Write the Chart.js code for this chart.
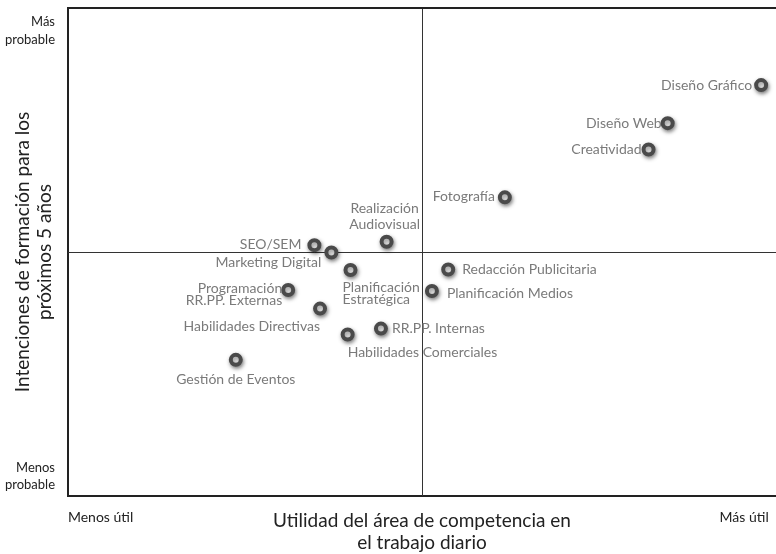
<!DOCTYPE html>
<html>
<head>
<meta charset="utf-8">
<script src="https://cdn.jsdelivr.net/npm/chart.js@4"></script>
<style>
  html, body { margin: 0; padding: 0; background: #fff; }
  #wrap { width: 776px; height: 554px; }
</style>
</head>
<body>
<div id="wrap"><canvas id="c" width="776" height="554"></canvas></div>
<script>
// ---- data ----
const categories = [
  'Diseño Gráfico',
  'Diseño Web',
  'Creatividad',
  'Fotografía',
  'Realización\nAudiovisual',
  'SEO/SEM',
  'Marketing Digital',
  'Planificación\nEstratégica',
  'Redacción Publicitaria',
  'Planificación Medios',
  'Programación\nRR.PP. Externas',
  'Habilidades Directivas',
  'Habilidades Comerciales',
  'RR.PP. Internas',
  'Gestión de Eventos'
];
const utilidad  = [9.79, 8.47, 8.20, 6.17, 4.50, 3.48, 3.72, 3.99, 5.37, 5.14, 3.11, 3.56, 3.95, 4.42, 2.37];
const intencion = [8.42, 7.64, 7.10, 6.12, 5.21, 5.14, 4.99, 4.63, 4.64, 4.20, 4.22, 3.84, 3.31, 3.43, 2.79];
const xTickLabels = ['Menos útil', 'Más útil'];
const yTickLabels = [['Más', 'probable'], ['Menos', 'probable']];
const xAxisTitle = ['Utilidad del área de competencia en', 'el trabajo diario'];
const yAxisTitle = ['Intenciones de formación para los', 'próximos 5 años'];

// ---- label placement (style only) ----
const labelPlacement = [
  {align: 'right',  dx: -9,  dy: 0,   gap: 14},
  {align: 'right',  dx: -6,  dy: 0,   gap: 14},
  {align: 'right',  dx: -7,  dy: 0,   gap: 14},
  {align: 'right',  dx: -10, dy: -1,  gap: 14},
  {align: 'center', dx: -2,  dy: -33, gap: 16},
  {align: 'right',  dx: -13, dy: -1,  gap: 14},
  {align: 'right',  dx: -10, dy: 10,  gap: 14},
  {align: 'left',   dx: -8,  dy: 17,  gap: 12},
  {align: 'left',   dx: 14,  dy: 0,   gap: 14},
  {align: 'left',   dx: 15,  dy: 2,   gap: 14},
  {align: 'right',  dx: -6,  dy: -2,  gap: 12},
  {align: 'right',  dx: 0,   dy: 18,  gap: 14},
  {align: 'left',   dx: 0,   dy: 18,  gap: 14},
  {align: 'left',   dx: 11,  dy: 0,   gap: 14},
  {align: 'center', dx: 0,   dy: 20,  gap: 14}
];

const points = utilidad.map((x, i) => ({x: x, y: intencion[i]}));
const FONT = 'Lato, "Open Sans", sans-serif';

const quadrantPlugin = {
  id: 'quadrant',
  beforeDatasetsDraw(chart) {
    const {ctx, chartArea, scales} = chart;
    const cx = Math.round(scales.x.getPixelForValue(5)) + 0.5;
    const cy = Math.round(scales.y.getPixelForValue(5)) + 0.5;
    ctx.save();
    ctx.strokeStyle = '#333';
    ctx.lineWidth = 1;
    ctx.beginPath();
    ctx.moveTo(cx, chartArea.top);
    ctx.lineTo(cx, chartArea.bottom);
    ctx.moveTo(chartArea.left, cy);
    ctx.lineTo(chartArea.right, cy);
    ctx.stroke();
    // top frame line
    ctx.strokeStyle = '#222';
    ctx.lineWidth = 2;
    ctx.beginPath();
    ctx.moveTo(chartArea.left - 1, chartArea.top);
    ctx.lineTo(chartArea.right, chartArea.top);
    ctx.stroke();
    ctx.restore();
  },
  beforeDatasetDraw(chart) {
    const ctx = chart.ctx;
    ctx.save();
    ctx.shadowColor = 'rgba(0,0,0,0.45)';
    ctx.shadowBlur = 4;
    ctx.shadowOffsetX = 1;
    ctx.shadowOffsetY = 2;
  },
  afterDatasetDraw(chart) {
    chart.ctx.restore();
  },
  afterDatasetsDraw(chart) {
    const {ctx} = chart;
    const meta = chart.getDatasetMeta(0);
    ctx.save();
    ctx.font = '14px ' + FONT;
    ctx.fillStyle = '#7a7a7a';
    ctx.textBaseline = 'middle';
    meta.data.forEach((el, i) => {
      const p = labelPlacement[i];
      ctx.textAlign = p.align;
      const lines = categories[i].split('\n');
      lines.forEach((ln, k) => {
        ctx.fillText(ln, el.x + p.dx, el.y + p.dy + k * p.gap);
      });
    });
    ctx.restore();
  }
};

new Chart(document.getElementById('c'), {
  type: 'scatter',
  data: {
    datasets: [{
      data: points,
      pointRadius: 5,
      pointHoverRadius: 5,
      pointBorderWidth: 4,
      pointBorderColor: '#4a4a4a',
      pointBackgroundColor: '#ffffff',
      clip: false
    }]
  },
  options: {
    responsive: false,
    devicePixelRatio: 1,
    animation: false,
    layout: { autoPadding: false, padding: { top: 8, right: 0, bottom: 0, left: 0 } },
    plugins: { legend: { display: false }, tooltip: { enabled: false } },
    scales: {
      x: {
        type: 'linear', min: 0, max: 10,
        grid: { display: false },
        border: { display: true, color: '#222', width: 2 },
        afterFit(scale) {
          scale.height = 58;
          scale.paddingLeft = 0; scale.paddingRight = 0;
          scale.paddingTop = 0; scale.paddingBottom = 0;
        },
        afterBuildTicks(scale) { scale.ticks = [{value: 0.46}, {value: 9.55}]; },
        ticks: {
          autoSkip: false, maxRotation: 0, padding: 5,
          color: '#222', font: { family: FONT, size: 14 },
          callback: (v, i) => xTickLabels[i]
        },
        title: {
          display: true, text: xAxisTitle, color: '#222',
          font: { family: FONT, size: 19, lineHeight: 1.15 },
          padding: { top: 0, bottom: 0 }
        }
      },
      y: {
        type: 'linear', min: 0, max: 10,
        grid: { display: false },
        border: { display: true, color: '#222', width: 2 },
        afterFit(scale) {
          scale.width = 68;
          scale.paddingLeft = 0; scale.paddingRight = 0;
          scale.paddingTop = 0; scale.paddingBottom = 0;
        },
        afterBuildTicks(scale) { scale.ticks = [{value: 9.53}, {value: 0.40}]; },
        ticks: {
          autoSkip: false, padding: 5,
          color: '#222', font: { family: FONT, size: 13, lineHeight: 1.35 },
          callback: (v, i) => yTickLabels[i]
        },
        title: {
          display: true, text: yAxisTitle, color: '#222',
          font: { family: FONT, size: 19, lineHeight: 1.15 },
          padding: { top: 12, bottom: 0 }
        }
      }
    }
  },
  plugins: [quadrantPlugin]
});
</script>
</body>
</html>
